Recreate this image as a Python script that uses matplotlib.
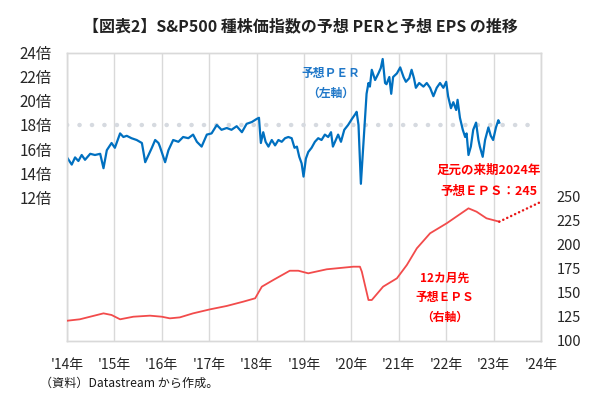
import matplotlib
matplotlib.use("Agg")
import matplotlib.pyplot as plt

plt.rcParams['font.family'] = ['Noto Sans CJK JP', 'DejaVu Sans']

# ---- data (decimal years) ----
per_years = [2014.00, 2014.10, 2014.17, 2014.24, 2014.31, 2014.38, 2014.49, 2014.59, 2014.70,
             2014.77, 2014.84, 2014.94, 2015.01, 2015.12, 2015.19, 2015.26, 2015.36, 2015.47,
             2015.58, 2015.65, 2015.72, 2015.79, 2015.86, 2015.93, 2015.96, 2016.07, 2016.14,
             2016.24, 2016.35, 2016.45, 2016.56, 2016.66, 2016.74, 2016.84, 2016.95, 2017.05,
             2017.16, 2017.26, 2017.37, 2017.47, 2017.58, 2017.69, 2017.79, 2017.90, 2018.00,
             2018.05, 2018.09, 2018.14, 2018.19, 2018.25, 2018.32, 2018.39, 2018.46, 2018.53,
             2018.60, 2018.67, 2018.74, 2018.80, 2018.85, 2018.90, 2018.95, 2018.99, 2019.04,
             2019.09, 2019.16, 2019.23, 2019.30, 2019.37, 2019.44, 2019.51, 2019.57, 2019.61,
             2019.67, 2019.72, 2019.78, 2019.85, 2019.93, 2020.01, 2020.08, 2020.11, 2020.15,
             2020.20, 2020.32, 2020.36, 2020.39, 2020.43, 2020.50, 2020.57, 2020.62, 2020.66,
             2020.71, 2020.74, 2020.80, 2020.84, 2020.88, 2020.96, 2021.03, 2021.10, 2021.15,
             2021.22, 2021.27, 2021.32, 2021.36, 2021.43, 2021.52, 2021.59, 2021.66, 2021.73,
             2021.80, 2021.87, 2021.94, 2022.00, 2022.04, 2022.10, 2022.15, 2022.21, 2022.24,
             2022.29, 2022.35, 2022.40, 2022.43, 2022.47, 2022.52, 2022.57, 2022.63, 2022.68,
             2022.71, 2022.77, 2022.82, 2022.89, 2022.94, 2022.99, 2023.05, 2023.10, 2023.12]
per_values = [15.3, 14.7, 15.3, 15.0, 15.5, 15.1, 15.6, 15.5, 15.6,
              14.4, 15.9, 16.5, 16.1, 17.3, 17.0, 17.1, 16.9, 16.75,
              16.5, 14.9, 15.5, 16.1, 16.75, 16.5, 16.2, 14.9, 15.9,
              16.75, 16.6, 17.0, 16.9, 17.2, 16.6, 16.2, 17.2, 17.3,
              18.0, 17.6, 17.75, 17.6, 17.9, 17.4, 18.1, 18.25, 18.5,
              18.6, 16.5, 17.4, 16.6, 16.2, 16.75, 16.3, 16.75, 16.6,
              16.9, 17.0, 16.9, 16.1, 16.2, 15.35, 14.8, 13.7, 15.2,
              15.75, 16.1, 16.6, 16.9, 16.75, 17.2, 17.0, 17.4, 16.2,
              16.75, 17.2, 16.6, 17.6, 18.0, 18.5, 18.9, 19.1, 18.0,
              13.1, 20.6, 21.5, 21.2, 22.6, 21.75, 22.3, 22.75, 23.5,
              21.5, 21.4, 22.0, 20.6, 22.0, 22.3, 22.8, 22.0, 21.6,
              21.9, 22.6, 21.9, 21.1, 21.5, 21.2, 21.5, 21.1, 20.4,
              21.1, 21.5, 21.1, 21.6, 20.4, 19.4, 19.9, 19.25, 20.1,
              18.6, 17.6, 17.0, 17.3, 15.5, 16.2, 17.6, 18.2, 16.75,
              16.2, 15.35, 16.75, 17.8, 17.1, 16.75, 17.8, 18.4, 18.2]

eps_years = [2014.00, 2014.27, 2014.77, 2014.94, 2015.12, 2015.40, 2015.75, 2016.00, 2016.17,
             2016.38, 2016.66, 2017.02, 2017.37, 2017.72, 2017.97, 2018.11, 2018.35, 2018.70,
             2018.88, 2019.09, 2019.48, 2020.04, 2020.18, 2020.22, 2020.36, 2020.43, 2020.67,
             2020.96, 2021.17, 2021.38, 2021.66, 2022.01, 2022.47, 2022.64, 2022.85, 2023.12]
eps_values = [121.1, 122.6, 128.8, 127.1, 122.6, 125.3, 126.4, 125.3, 123.6,
              124.6, 128.8, 133.0, 136.5, 141.0, 144.5, 156.6, 163.5, 173.2,
              173.2, 170.5, 174.7, 177.4, 177.4, 172.2, 142.7, 142.7, 156.6,
              165.3, 179.2, 196.5, 212.2, 222.6, 238.2, 234.7, 227.8, 224.3]

proj_years = [2023.12, 2024.0]
proj_values = [224.3, 245]

per_ref_level = 18
year_ticks = list(range(2014, 2025))
year_labels = ["'14年", "'15年", "'16年", "'17年", "'18年", "'19年", "'20年",
               "'21年", "'22年", "'23年", "'24年"]
per_ticks = [12, 14, 16, 18, 20, 22, 24]
per_tick_labels = ["12倍", "14倍", "16倍", "18倍", "20倍", "22倍", "24倍"]
eps_ticks = [100, 125, 150, 175, 200, 225, 250]

# ---- figure ----
W, H = 600, 396
fig = plt.figure(figsize=(W / 100, H / 100), dpi=100)
ax = fig.add_axes([67 / W, 1 - 341 / H, (541 - 67) / W, (341 - 53) / H])
ax2 = ax.twinx()

blue = '#0070C0'
red = '#FF0000'
eps_red = '#F24B4B'
grid_c = '#D9D9D9'
txt_c = '#262626'

ax.set_xlim(2014, 2024)
ax.set_ylim(0, 24)
ax2.set_ylim(100, 400)

for y in year_ticks:
    ax.axvline(y, color=grid_c, lw=1.0, zorder=0)

ax.plot([2014.0, 2023.85], [per_ref_level, per_ref_level], color='#D6DAE0', lw=3.2,
        linestyle=(0, (0.05, 2.75)), dash_capstyle='round', zorder=1)
ax.plot(per_years, per_values, color=blue, lw=1.6, zorder=3)

ax2.plot(eps_years, eps_values, color=eps_red, lw=1.3, zorder=3)
ax2.plot(proj_years, proj_values, color='#E81818', lw=1.8,
         linestyle=(0, (0.05, 1.7)), dash_capstyle='round', zorder=3)

for a in (ax, ax2):
    for s in a.spines.values():
        s.set_color(grid_c)
        s.set_linewidth(1.0)

ax.set_xticks(year_ticks)
ax.set_xticklabels(year_labels, fontsize=10, color=txt_c)
ax.set_yticks(per_ticks)
ax.set_yticklabels(per_tick_labels, fontsize=11, color=txt_c)
ax.tick_params(axis='both', length=0)
ax.tick_params(axis='y', pad=11)
ax.tick_params(axis='x', pad=12)

ax2.set_yticks(eps_ticks)
ax2.set_yticklabels([str(v) for v in eps_ticks], fontsize=10.5, color=txt_c)
ax2.tick_params(axis='y', length=0, pad=11)

# ---- texts ----
fig.text(300 / W, 1 - 26 / H, "【図表2】S&P500 種株価指数の予想 PERと予想 EPS の推移",
         ha='center', va='center', fontsize=11.5, fontweight='bold', color='#222222')

fig.text(331 / W, 1 - 73 / H, "予想ＰＥＲ", ha='center', va='center', fontsize=8.5,
         color='#1F77C8', fontweight='bold')
fig.text(331 / W, 1 - 93 / H, "（左軸）", ha='center', va='center', fontsize=8.5,
         color='#1F77C8', fontweight='bold')

fig.text(489 / W, 1 - 170 / H, "足元の来期2024年", ha='center', va='center', fontsize=9,
         color=red, fontweight='bold')
fig.text(489 / W, 1 - 192 / H, "予想ＥＰＳ：245", ha='center', va='center', fontsize=9,
         color=red, fontweight='bold')

fig.text(445 / W, 1 - 278 / H, "12カ月先", ha='center', va='center', fontsize=8.5,
         color=red, fontweight='bold')
fig.text(445 / W, 1 - 297 / H, "予想ＥＰＳ", ha='center', va='center', fontsize=8.5,
         color=red, fontweight='bold')
fig.text(445 / W, 1 - 317 / H, "（右軸）", ha='center', va='center', fontsize=8.5,
         color=red, fontweight='bold')

fig.text(40 / W, 1 - 383 / H, "（資料）Datastream から作成。", ha='left', va='center',
         fontsize=8.7, color='#1a1a1a')

fig.savefig('out.png', dpi=100)
